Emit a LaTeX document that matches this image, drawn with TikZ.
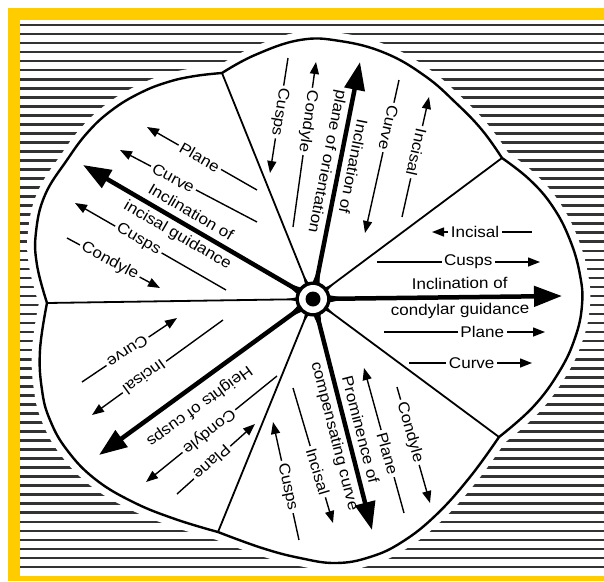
\documentclass[tikz,border=0pt]{standalone}
\usepackage{fontspec}
\setmainfont[FakeStretch=1.1]{Liberation Sans}
\usetikzlibrary{arrows.meta,calc}
\definecolor{frameyellow}{HTML}{FFCC00}
\definecolor{stripegray}{HTML}{333333}
\begin{document}
\begin{tikzpicture}[x=1pt,y=-1pt,
  stripe/.style={line width=2.6pt, stripegray},
  outline/.style={line width=2.4pt, black, fill=white, preaction={draw=white, line width=16pt}},
  divider/.style={line width=1.8pt, black},
  thinarr/.style={line width=1.4pt, black},
  bigarr/.style={line width=4.5pt, black},
  tipstart/.style={arrows={Triangle[length=12pt,width=9pt]-}},
  tipend/.style={arrows={-Triangle[length=12pt,width=9pt]}},
  bigtipstart/.style={arrows={Triangle[length=28pt,width=20pt]-}},
  bigtipend/.style={arrows={-Triangle[length=28pt,width=20pt]}},
  lab/.style={font=\fontsize{15.5}{17}\selectfont, fill=white, inner xsep=2.5pt, inner ysep=1pt, sloped, allow upside down},
  biglab/.style={font=\fontsize{15.5}{17}\selectfont, inner sep=1pt, sloped, allow upside down}
]
\useasboundingbox (0,0) rectangle (604,581);
% frame
\fill[white] (0,0) rectangle (604,581);
\fill[frameyellow] (8,8) rectangle (604,581);
\fill[white] (20,20) rectangle (604,576);
\foreach \i in {0,...,60} \draw[stripe] (20,{25+9.033*\i}) -- (604,{25+9.033*\i});
% key points
\coordinate (H) at (313,299);
\coordinate (V1) at (222,73);
\coordinate (V2) at (502,158);
\coordinate (V3) at (499,437);
\coordinate (V4) at (218,532);
\coordinate (V5) at (47,303);
\coordinate (TA) at (83,165);
\coordinate (TB) at (360,62);
\coordinate (TC) at (562,296);
\coordinate (TD) at (372,530);
\coordinate (TE) at (99,455);
% outline
\draw[outline] (V1)
  -- plot[smooth, tension=0.7] coordinates {(222,73) (255,55) (300,40) (340,41) (385,53) (425,76) (456,103) (482,130) (502,158)}
  -- plot[smooth, tension=0.7] coordinates {(502,158) (530,180) (553,207) (570,240) (580,275) (582,305) (575,338) (559,372) (533,407) (499,437)}
  -- plot[smooth, tension=0.7] coordinates {(499,437) (470,477) (436,515) (402,542) (370,557) (336,563) (300,558) (262,548) (218,532)}
  -- plot[smooth, tension=0.7] coordinates {(218,532) (175,519) (133,502) (95,479) (67,450) (50,420) (42,390) (40,350) (47,303)}
  -- plot[smooth, tension=0.7] coordinates {(47,303) (37,265) (36,232) (45,195) (67,160) (88,132) (112,110) (140,93) (168,82) (195,76) (222,73)}
  -- cycle;
% dividers
\foreach \v in {V1,V2,V3,V4,V5} \draw[divider] (H) -- (\v);
% sector A (upper left)
\draw[thinarr, tipstart] (147,127) -- node[lab,pos=0.48]{Plane} (257,190);
\draw[thinarr, tipstart] (120,150) -- node[lab,pos=0.39]{Curve} (257,222);
\draw[bigarr, bigtipstart] (TA) -- node[biglab,pos=0.44,above=5pt]{Inclination of} node[biglab,pos=0.44,below=3pt]{incisal guidance} (H);
\draw[thinarr, tipstart] (75,203) -- node[lab,pos=0.42]{Cusps} (226,290);
\draw[thinarr, tipend] (67,238) -- node[lab,pos=0.46]{Condyle} (160,288);
% sector B (top)
\draw[thinarr, tipend] (288,58) -- node[lab,pos=0.47]{Cusps} (270,173);
\draw[thinarr, tipstart] (316,62) -- node[lab,pos=0.36]{Condyle} (293,227);
\draw[bigarr, bigtipstart] (TB) -- node[biglab,pos=0.43,above=5pt]{Inclination of} node[biglab,pos=0.43,below=3pt]{plane of orientation} (H);
\draw[thinarr, tipend] (399,80) -- node[lab,pos=0.31]{Curve} (365,233);
\draw[thinarr, tipstart] (429,97) -- node[lab,pos=0.46]{Incisal} (402,217);
% sector C (right)
\draw[thinarr, tipstart] (432,232) -- node[lab,pos=0.43]{Incisal} (532,232);
\draw[thinarr, tipend] (377,262) -- node[lab,pos=0.56]{Cusps} (540,262);
\draw[bigarr, bigtipend] (H) -- node[biglab,pos=0.59,above=5pt]{Inclination of} node[biglab,pos=0.59,below=3pt]{condylar guidance} (TC);
\draw[thinarr, tipend] (384,332) -- node[lab,pos=0.61]{Plane} (545,332);
\draw[thinarr, tipend] (409,363) -- node[lab,pos=0.51]{Curve} (532,363);
% sector D (bottom)
\draw[thinarr, tipstart] (273,422) -- node[lab,pos=0.55]{Cusps} (299,540);
\draw[thinarr, tipend] (293,388) -- node[lab,pos=0.62]{Incisal} (333,523);
\draw[bigarr, bigtipend] (H) -- node[biglab,pos=0.58,above=5pt]{Prominence of} node[biglab,pos=0.58,below=3pt]{compensating curve} (TD);
\draw[thinarr, tipstart] (364,368) -- node[lab,pos=0.59]{Plane} (404,513);
\draw[thinarr, tipend] (397,387) -- node[lab,pos=0.39]{Condyle} (430,503);
% sector E (lower left)
\draw[thinarr, tipstart] (177,318) -- node[lab,pos=0.52]{Curve} (82,382);
\draw[thinarr, tipend] (223,320) -- node[lab,pos=0.6]{Incisal} (92,415);
\draw[bigarr, bigtipend] (H) -- node[biglab,pos=0.585,above=9pt]{Heights of cusps} (TE);
\draw[thinarr, tipend] (277,376) -- node[lab,pos=0.52]{Condyle} (146,482);
\draw[thinarr, tipstart] (255,424) -- node[lab,pos=0.55]{Plane} (177,494);
% hub with fillets
\foreach \t in {TA,TB,TC,TD,TE}
  \fill ($(H)!7pt!90:(\t)$) -- ($(H)!34pt!(\t)$) -- ($(H)!7pt!-90:(\t)$) -- cycle;
\foreach \t in {V1,V2,V3,V4,V5}
  \fill ($(H)!5pt!90:(\t)$) -- ($(H)!27pt!(\t)$) -- ($(H)!5pt!-90:(\t)$) -- cycle;
\fill (H) circle[radius=17.5pt];
\fill[white] (H) circle[radius=14pt];
\fill (H) circle[radius=7.5pt];
\end{tikzpicture}
\end{document}
